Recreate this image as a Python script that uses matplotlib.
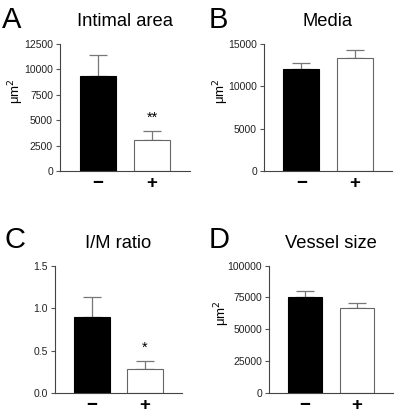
import numpy as np
import matplotlib
matplotlib.use('Agg')
import matplotlib.pyplot as plt

plt.rcParams['font.family'] = ['Liberation Sans', 'DejaVu Sans']

# Data
groups = ['\u2212', '+']
titles = ['Intimal area', 'Media', 'I/M ratio', 'Vessel size']
letters = ['A', 'B', 'C', 'D']
intimal = [9350, 3050]
intimal_err = [2070, 890]
media = [12050, 13350]
media_err = [710, 950]
im_ratio = [0.90, 0.28]
im_ratio_err = [0.225, 0.095]
vessel = [75200, 66500]
vessel_err = [4500, 4000]
stars = [['', '**'], ['', ''], ['', '*'], ['', '']]

values = [intimal, media, im_ratio, vessel]
errors = [intimal_err, media_err, im_ratio_err, vessel_err]
yticks = [[0, 2500, 5000, 7500, 10000, 12500],
          [0, 5000, 10000, 15000],
          [0.0, 0.5, 1.0, 1.5],
          [0, 25000, 50000, 75000, 100000]]
ytick_fmt = ['{:.0f}', '{:.0f}', '{:.1f}', '{:.0f}']
ylabels = ['\u03bcm$^2$', '\u03bcm$^2$', '', '\u03bcm$^2$']

# axes boxes in figure fraction [left, bottom, width, height]
boxes = [[0.150, 0.588, 0.325, 0.306],
         [0.660, 0.588, 0.320, 0.306],
         [0.1375, 0.053, 0.3175, 0.307],
         [0.6725, 0.053, 0.310, 0.307]]
letter_pos = [(0.005, 0.985), (0.522, 0.985), (0.010, 0.455), (0.522, 0.455)]
ylabel_off = [44, 43, 0, 47]  # pixels from the y axis to the label centre

fig = plt.figure(figsize=(4.0, 4.15), dpi=100)
x = np.arange(len(groups))

for i in range(4):
    ax = fig.add_axes(boxes[i])
    ax.bar(x, values[i], width=0.67, color=['black', 'white'],
           edgecolor=['black', '#666666'], linewidth=0.8, zorder=2)
    ax.errorbar(x, values[i], yerr=[np.zeros(2), errors[i]], fmt='none',
                ecolor='#777777', elinewidth=0.9, capsize=6.8, capthick=0.9, zorder=1)
    top = yticks[i][-1]
    for j in range(2):
        if stars[i][j]:
            ax.text(x[j], values[i][j] + errors[i][j] + top * 0.05, stars[i][j],
                    ha='center', va='bottom', fontsize=10.5)
    ax.set_xlim(-0.7, 1.7)
    ax.set_ylim(0, top)
    ax.set_yticks(yticks[i])
    ax.set_yticklabels([ytick_fmt[i].format(v) for v in yticks[i]])
    ax.set_xticks(x)
    ax.set_xticklabels(groups, fontsize=13.5, fontweight='bold')
    ax.tick_params(axis='x', length=0, pad=3)
    ax.tick_params(axis='y', length=3, width=0.8, labelsize=7.5, color='#555555',
                   labelcolor='#222222', pad=2)
    for s in ['top', 'right']:
        ax.spines[s].set_visible(False)
    for s in ['left', 'bottom']:
        ax.spines[s].set_color('#444444')
        ax.spines[s].set_linewidth(0.8)
    ax.set_title(titles[i], fontsize=13.2, pad=13)
    if ylabels[i]:
        ax.set_ylabel(ylabels[i], fontsize=9.5, va='center', ha='center')
        ax.yaxis.set_label_coords(-ylabel_off[i] / (boxes[i][2] * 400), 0.63)
    fig.text(letter_pos[i][0], letter_pos[i][1], letters[i], fontsize=21,
             ha='left', va='top')

fig.savefig('out.png', dpi=100, facecolor='white')
